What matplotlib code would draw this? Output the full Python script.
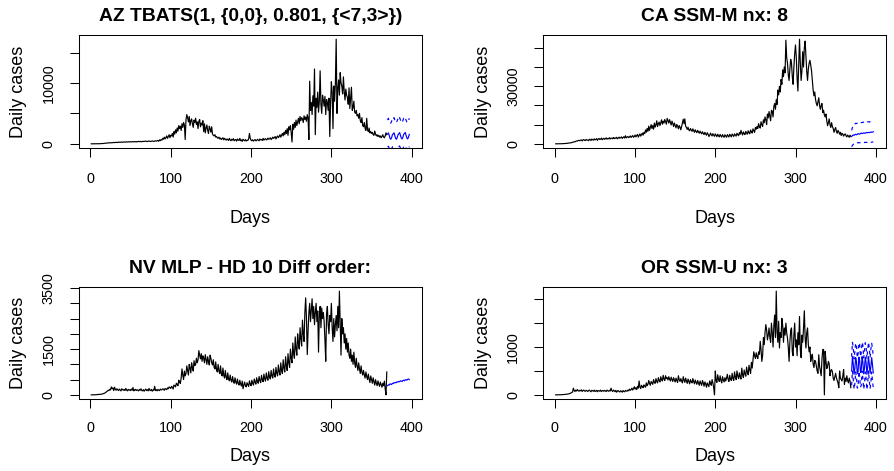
import numpy as np
import matplotlib
matplotlib.use("Agg")
import matplotlib.pyplot as plt

plt.rcParams['font.family'] = ['Liberation Sans', 'DejaVu Sans']

# ---------------- data ----------------
az_title = "AZ TBATS(1, {0,0}, 0.801, {<7,3>})"
az_cases = [0,0,0,1,1,2,3,5,8,10, 15,20,25,35,45,60,70,80,95,110,
            130,150,140,170,190,160,180,200,220,190, 230,250,210,240,260,280,230,270,300,260,
            280,310,270,300,330,290,320,340,300,350, 310,330,360,320,370,340,300,380,350,390,
            360,400,370,330,410,380,420,390,450,400, 360,430,470,410,380,440,480,420,390,460,
            500,440,480,560,420,650,520,700,600,900, 750,1100,800,1000,1300,900,1200,1500,1000,1400,
            1300,1700,1100,2000,1600,2300,1800,2600,2100,3000, 2500,2900,2200,3300,2700,3500,3100,700,4000,4800,
            4300,3600,4500,3000,3800,4100,3300,2700,3900,3500, 4200,3200,3600,2500,3700,4000,2800,3400,3100,3800,
            2000,3300,1800,2600,3100,2200,1700,2900,2500,1900, 2800,1600,1400,1300,1500,1100,1200,1000,900,1100,
            800,950,700,850,1000,650,900,750,600,800, 700,550,900,650,500,750,600,850,500,650,
            700,450,800,600,550,900,500,650,400,750, 600,500,700,450,600,550,800,1700,900,600,
            500,650,450,600,700,500,550,750,600,500, 800,650,700,550,900,600,750,850,650,700,
            950,750,800,1000,700,850,1100,900,1000,1200, 800,1100,1300,1000,1200,1500,1100,1400,1700,1300,
            1900,1500,2200,1700,2500,1400,2800,2300,3000,1800, 300,3200,2400,3500,2700,3900,3000,3600,4200,3300,
            4500,3800,4300,4100,3500,4600,4000,4400,3700,4800, 4200,700,10300,5500,6800,4800,7900,6200,12300,1500,
            7500,6000,8500,5200,7000,12000,6500,5000,8000,7200, 6200,7800,4800,7300,6800,5500,7500,1200,6500,10200,
            8500,2500,9500,7000,10000,17200,5000,9000,10500,8000, 11700,10000,9500,8200,11000,8600,7200,9000,8000,7600,
            6500,9200,5800,7600,9300,5500,6000,7000,5200,5000, 5500,4600,4800,4200,5000,3800,3500,4300,3000,2800,
            3500,2500,2200,4200,2300,2000,2600,1800,2000,1700, 1900,1500,1400,2100,1600,1300,1500,1200,1400,1100,
            1300,1000,1200,1500,1100,1000,1300,1800,1500]
az_fc_mean = [1600,1800,1400,900,750,1000,1500, 1650,1800,1350,900,750,1050,1500,
              1650,1850,1400,950,800,1050,1550, 1700,1850,1400,950,800,1100,1550]
az_fc_upper = [3900,4200,3800,3500,3400,3700,4100, 4000,4300,3900,3600,3500,3800,4200,
               4000,4300,3900,3600,3500,3800,4200, 4100,4300,3900,3600,3500,3800,4200]
az_fc_lower = [-500,-400,-700,-1000,-1100,-800,-500, -450,-400,-700,-1000,-1100,-800,-500,
               -450,-350,-700,-1000,-1100,-800,-450, -400,-350,-700,-1000,-1100,-750,-450]
az_yticks = [0, 5000, 10000, 15000]
az_ylabels = ["0", "", "10000", ""]

ca_title = "CA SSM-M nx: 8"
ca_cases = [0,0,0,0,10,20,30,40,60,80, 100,120,150,200,250,300,350,400,450,500,
            600,800,900,1100,1000,1300,1500,1400,1700,1800, 1600,1900,2000,1500,2100,2200,1800,1700,2300,1900,
            2000,1600,2400,2200,1700,2500,2100,1900,2600,2000, 2300,2700,1800,2500,2800,2200,2400,3000,2100,2600,
            2900,2300,2700,3100,2400,2800,2600,3200,2500,2900, 3000,2600,3300,2700,3100,2800,3400,2600,3000,3500,
            2900,3200,3600,2800,3300,3700,3000,4200,3100,3500, 3800,3200,3600,4100,3300,3900,4300,3400,3800,4600,
            3600,4200,4900,3500,4400,5200,4000,4800,5600,4500, 6000,5300,7200,6000,8000,6500,9200,7000,8500,10000,
            8000,9500,7600,10800,8700,9900,12000,9000,10500,11300, 9500,11000,12500,10200,11800,10800,12700,11500,10200,13300,
            12000,10800,12600,11200,9800,11800,10600,9000,10800,9600, 8300,10100,9200,7800,9500,8700,7300,9000,11000,12800,
            10500,13000,9200,8500,7500,8600,7200,6800,8000,7100, 6500,7800,6900,6000,7300,6400,5800,7000,6200,5500,
            6600,5800,5200,6300,5400,4800,6000,5100,4500,5800, 5000,3800,4400,5600,4700,4100,5300,4500,3900,5200,
            4400,3700,5000,4200,3600,4900,4100,3500,4800,4000, 3400,4700,4000,3400,4800,4100,3500,5000,4300,3600,
            5100,4400,3800,5200,4600,4000,5500,4800,4200,5800, 5000,7000,5600,4600,6200,5300,4800,6500,5600,5000,
            6800,5800,5200,7200,6300,5600,7800,6800,6000,8500, 7600,9000,8000,10500,9000,8200,11500,10000,9000,12500,
            11000,14000,12500,10000,15500,13500,16800,14500,12000,17500,
            17000,14000,19500,21000,18000,23000,20500,28000,25500,30000,
            27000,33500,31000,38500,35000,40000,37000,54000,45000,42000,
            36000,33000,39000,44000,42000,35000,31000,40000,47000,51500,
            45000,34000,27500,41000,54500,42000,33000,38000,48000,40000,
            50000,53500,46000,38000,33000,39000,42000,43500,41000,38000,
            33000,28000,25000,27000,23000,21000,19800,22000,24000,20000,
            18000,20000,21000,16300,17500,15000,14000,15500,12000,9400,
            11000,13000,10000,8500,11000,9000,8000,6000,7500,8500,
            6500,5500,7000,6200,5000,6000,4300,5500,5000,4000,
            4800,5200,4200,3600,4600,4000,3400,4500,3800]
ca_fc_mean = [3800,4300,4600,4400,4800,5000,4700,4900,5300,5100,5000,5400,5600,5300,
              5500,5700,5500,5600,5900,5700,5800,6000,5800,5900,6200,6000,6100,6300]
ca_fc_upper = [7000,8500,9500,10000,10300,10700,10500,10800,11000,10800,10900,11200,11100,11000,
               11300,11200,11100,11400,11300,11200,11500,11400,11300,11600,11500,11400,11700,11600]
ca_fc_lower = [-1500,-800,-300,0,200,400,300,500,600,500,550,700,650,600,
               750,700,650,800,750,700,850,800,750,900,850,800,950,900]
ca_yticks = [0, 10000, 20000, 30000, 40000, 50000]
ca_ylabels = ["0", "", "", "30000", "", ""]

nv_title = "NV MLP - HD 10 Diff order:"
nv_cases = [0,0,0,1,2,3,5,8,10,12, 15,18,20,25,30,40,50,60,80,100,
            120,150,140,180,160,260,200,230,140,250, 180,150,200,170,140,190,160,130,200,170,
            150,180,140,210,160,130,180,150,170,140, 190,150,240,130,160,180,140,170,150,130,
            180,150,200,140,130,170,120,160,190,140, 170,130,210,150,140,180,120,160,150,280,
            140,170,130,180,150,140,190,160,170,200, 180,150,210,190,170,230,200,260,240,210,
            280,250,190,320,300,260,380,350,300,480, 420,370,560,850,640,500,780,620,700,950,
            800,650,1000,880,720,1050,900,780,1120,960, 1000,1200,1050,1150,1450,1300,1180,1350,1100,1280,
            1200,1050,1320,1150,1000,1250,1100,980,1300,1200, 1050,980,1150,900,850,1080,820,750,1000,780,
            700,950,680,620,880,640,550,800,580,500, 720,520,460,650,480,420,600,450,380,560,
            420,350,520,380,320,480,360,290,450,200, 320,420,300,260,400,330,280,460,350,300,
            480,380,320,520,420,350,560,440,380,600, 470,400,640,500,430,680,520,450,720,550,
            480,760,590,520,800,620,550,850,650,580, 900,700,620,980,760,650,1050,800,700,1150,
            880,750,1250,950,800,1350,1050,900,1500,1200, 1050,1700,1350,1200,1900,1500,1300,2000,1700,1500,
            2200,1850,1600,2450,2000,1750,2700,3180,2500,1320, 2100,2700,3000,2400,2800,3150,2500,2900,2300,2700,
            3000,2400,2750,1400,2600,2900,2200,2850,2500,2700, 2400,1800,1100,2650,2900,2300,2000,2600,2400,3000,
            2200,1750,2500,1900,2300,2600,2100,2900,2200,3400, 2400,1300,2500,2000,2200,1700,2000,1500,1850,1400,
            1700,1300,1200,1500,1100,1300,1000,1400,1050,900, 1200,950,800,1050,850,700,950,750,650,800,
            650,550,750,600,500,680,520,400,620,500, 380,560,430,320,500,380,300,460,350,280,
            420,330,250,380,300,450,200,0,750]
nv_fc_mean = [300,330,320,360,350,340,380,370,400,390,410,400,430,420,
              440,430,460,450,440,470,480,460,490,500,480,510,520,500]
nv_yticks = [0, 500, 1000, 1500, 2000, 2500, 3000, 3500]
nv_ylabels = ["0", "", "", "1500", "", "", "", "3500"]

or_title = "OR SSM-U nx: 3"
or_cases = [0,0,0,0,1,1,2,3,4,5, 6,8,10,12,15,18,20,25,30,40,
            50,60,140,90,70,100,80,110,90,75, 95,85,105,70,90,100,80,75,95,85,
            70,90,100,80,65,95,85,75,100,70, 80,95,65,90,85,75,100,70,85,90,
            75,95,80,70,100,85,75,95,80,140, 90,70,100,85,65,95,55,80,90,70,
            60,85,75,55,90,70,65,95,80,75, 100,85,120,95,110,140,100,130,170,120,
            150,110,180,140,290,160,130,200,170,150, 210,180,160,250,190,220,300,240,200,280,
            250,220,320,260,240,340,280,250,360,300, 270,380,320,290,410,330,300,400,340,360,
            310,380,330,290,370,320,280,360,310,270, 350,300,260,400,320,280,340,290,250,380,
            310,260,350,290,240,330,280,230,320,270, 250,340,280,230,310,260,220,300,250,200,
            290,240,200,300,250,180,270,230,160,250, 210,170,290,240,200,320,250,150,0,500,
            300,260,420,320,280,400,300,250,380,310, 270,360,290,350,430,320,280,410,330,300,
            450,340,300,480,370,320,500,390,340,460, 380,330,560,420,360,520,440,390,580,480,
            420,620,520,450,680,560,720,900,820,760, 880,800,760,900,850,1120,950,700,820,1200,
            1050,1300,1470,1350,1150,1250,1400,1200,1100,1500, 1300,1000,1450,1670,1200,2170,1330,1100,1540,980,
            1300,1200,1600,1450,1100,1400,1250,1500,1300,1190, 1000,700,1100,1350,1400,900,820,1250,1500,1000,
            1150,820,1300,1050,1640,950,780,1250,1100,1400, 1760,1200,980,1300,1400,1050,900,1000,700,800,
            850,650,570,720,700,600,500,450,840,600, 500,400,750,950,950,0,910,700,550,600,
            700,650,400,500,530,480,350,300,380,450, 360,300,250,150,500,350,320,290,400,530,
            220,350,280,400,300,250,350,290,150]
or_fc_mean = [500,800,650,430,550,780,700,450,480,790,720,470,520,800,
              690,440,560,790,680,430,580,800,640,450,600,780,620,460]
or_fc_upper = [800,1100,1000,750,900,1080,1050,780,850,1090,1060,800,880,1100,
               1040,770,920,1090,1020,760,940,1100,990,780,960,1080,970,790]
or_fc_lower = [200,500,330,120,230,480,370,140,160,490,390,160,200,500,
               350,120,220,480,340,110,250,500,300,130,260,480,290,140]
or_yticks = [0, 500, 1000, 1500, 2000]
or_ylabels = ["0", "", "1000", "", ""]

x_ticks = [0, 100, 200, 300, 400]

# ---------------- layout ----------------
W, H = 894, 471
fig = plt.figure(figsize=(W / 100, H / 100), dpi=100)

def rect(x0, y0, x1, y1):
    return [x0 / W, 1 - y1 / H, (x1 - x0) / W, (y1 - y0) / H]

# (rect, title, cases, mean, upper, lower, yticks, ylabels, xtick pad, xlabel pad)
panels = [
    (rect(78.5, 35, 422, 148), az_title, az_cases, az_fc_mean, az_fc_upper, az_fc_lower, az_yticks, az_ylabels, 11, 17),
    (rect(543, 35, 886, 148), ca_title, ca_cases, ca_fc_mean, ca_fc_upper, ca_fc_lower, ca_yticks, ca_ylabels, 11, 17),
    (rect(78.5, 287, 422, 399), nv_title, nv_cases, nv_fc_mean, None, None, nv_yticks, nv_ylabels, 9, 10),
    (rect(543, 287, 886, 399), or_title, or_cases, or_fc_mean, or_fc_upper, or_fc_lower, or_yticks, or_ylabels, 9, 10),
]

for r, title, cases, fmean, fup, flo, yt, yl, xpad, xlpad in panels:
    ax = fig.add_axes(r)
    cases = np.asarray(cases, dtype=float)
    n = len(cases)
    days = np.arange(1, n + 1)
    fdays = np.arange(n + 1, n + 1 + len(fmean))
    ax.plot(days, cases, color='black', lw=0.85)
    ax.plot(fdays, fmean, color='#0000FF', lw=0.85)
    if fup is not None:
        ax.plot(fdays, fup, color='#0000FF', lw=0.85, ls=(0, (3, 3)))
        ax.plot(fdays, flo, color='#0000FF', lw=0.85, ls=(0, (3, 3)))
    x0, x1 = 1, fdays[-1]
    px = 0.04 * (x1 - x0)
    ax.set_xlim(x0 - px, x1 + px)
    y0, y1 = cases.min(), cases.max()
    py = 0.04 * (y1 - y0)
    ax.set_ylim(y0 - py, y1 + py)
    ax.set_xticks(x_ticks)
    ax.set_xticklabels([str(t) for t in x_ticks])
    ax.set_yticks(yt)
    ax.set_yticklabels(yl)
    ax.tick_params(axis='both', direction='out', length=6.5, width=0.75, labelsize=10.4, color='black')
    ax.tick_params(axis='x', pad=xpad)
    ax.tick_params(axis='y', pad=10, labelrotation=90)
    for lab in ax.get_yticklabels():
        lab.set_va('center')
    for s in ax.spines.values():
        s.set_linewidth(0.75)
        s.set_color('black')
    ax.set_title(title, fontsize=13.9, fontweight='bold', pad=10)
    ax.set_xlabel('Days', fontsize=13, labelpad=xlpad)
    ax.set_ylabel('Daily cases', fontsize=13, labelpad=10.5)

fig.savefig('out.png', dpi=100)
